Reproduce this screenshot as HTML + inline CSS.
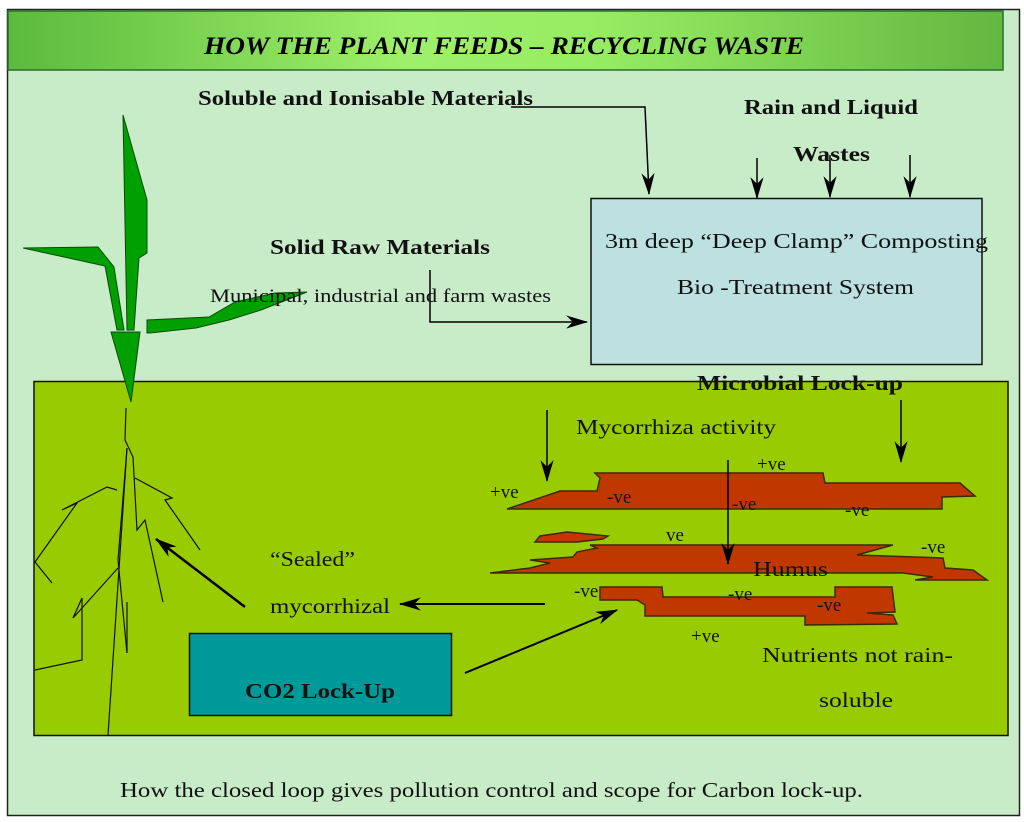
<!DOCTYPE html>
<html><head><meta charset="utf-8"><style>html,body{margin:0;padding:0;background:#fff}svg{display:block}</style></head>
<body>
<svg width="1024" height="822" viewBox="0 0 1024 822" xmlns="http://www.w3.org/2000/svg" font-family="Liberation Serif, serif">
<defs>
<linearGradient id="hg" x1="0" x2="1" y1="0" y2="0">
<stop offset="0" stop-color="#5cba3c"/><stop offset="0.4" stop-color="#9ef06a"/><stop offset="0.6" stop-color="#95ec62"/><stop offset="1" stop-color="#62b840"/>
</linearGradient>
<marker id="ah2" viewBox="0 0 20 12" refX="19" refY="6" markerWidth="22" markerHeight="14" orient="auto" markerUnits="userSpaceOnUse">
<path d="M0,0 L20,6 L0,12 L6,6 z" fill="#000"/></marker>
</defs>
<rect x="0" y="0" width="1024" height="822" fill="#fff"/>
<rect x="7.5" y="9.5" width="1012" height="806" fill="#c8ebc8" stroke="#222" stroke-width="1.5"/>
<rect x="8" y="11" width="995" height="59" fill="url(#hg)" stroke="#2a6e2a" stroke-width="1.5"/>
<text x="204" y="54" font-size="25" font-style="italic" font-weight="bold" textLength="600" lengthAdjust="spacingAndGlyphs">HOW THE PLANT FEEDS – RECYCLING WASTE</text>

<rect x="591" y="198.5" width="391" height="166" fill="#bde0e0" stroke="#111" stroke-width="1.5"/>
<rect x="34" y="381.5" width="974" height="354" fill="#99cc00" stroke="#111" stroke-width="1.5"/>

<g fill="#00a000" stroke="#0a4a0a" stroke-width="1">
<polygon points="123,115 147,200 147,253 139,258 134,330 127,330"/>
<polygon points="23,248 98,247 114,267 124,330 117,330 105,266"/>
<polygon points="147,333 147,320 209,317 235,302 275,293 307,292 261,310 229,320 196,328 150,333"/>
<polygon points="111,332 140,332 131,402"/>
</g>
<g fill="none" stroke="#111" stroke-width="1.2">
<polyline points="126,408 125,440 133,457 137,530 145,520 163,602"/>
<polyline points="127,448 118,560 127,653"/>
<polyline points="127,448 108,735"/>
<polyline points="135,478 172,498 165,500 200,550"/>
<polyline points="117,490 107,487 62,510 77,503 35,562 52,583"/>
<polyline points="118,568 73,618 82,598 82,660 35,670"/>
<polyline points="127,602 127,653"/>
</g>

<g fill="#c03800" stroke="#3a2a00" stroke-width="1.5">
<polygon points="507,509 560,491 597,491 600,478 595,473 823,473 825,483 960,483 975,496 942,497 942,509"/>
<polygon points="490,573 530,568 550,563 530,560 573,557 577,552 597,548 590,545 893,545 857,555 943,558 945,568 973,570 987,580 915,580 933,577 903,573"/>
<polygon points="535,542 540,536 567,532 608,536 603,539 577,542"/>
<polygon points="600,587 662,587 663,597 835,597 835,587 892,587 895,612 867,613 893,615 897,624 805,625 805,616 645,616 645,605 637,600 600,600"/>
</g>

<rect x="189.5" y="633.5" width="262" height="82" fill="#009999" stroke="#111" stroke-width="1.5"/>

<g stroke="#000" stroke-width="1.5" fill="none">
<polyline points="511,107 645,107 649,194" marker-end="url(#ah2)"/>
<line x1="757" y1="158" x2="757" y2="198" marker-end="url(#ah2)"/>
<line x1="830" y1="155" x2="830" y2="197" marker-end="url(#ah2)"/>
<line x1="910" y1="155" x2="910" y2="197" marker-end="url(#ah2)"/>
<polyline points="430,270 430,322 587,322" marker-end="url(#ah2)"/>
<line x1="901" y1="400" x2="901" y2="462" marker-end="url(#ah2)"/>
<line x1="547" y1="410" x2="547" y2="481" marker-end="url(#ah2)"/>
<line x1="728" y1="460" x2="728" y2="564" marker-end="url(#ah2)"/>
<line x1="545" y1="604" x2="400" y2="604" stroke-width="2" marker-end="url(#ah2)"/>
<line x1="465" y1="673" x2="617" y2="610" stroke-width="2" marker-end="url(#ah2)"/>
<line x1="245" y1="607" x2="156" y2="539" stroke-width="2.5" marker-end="url(#ah2)"/>
</g>

<g font-size="21" fill="#111">
<text x="198" y="105" font-weight="bold" textLength="335" lengthAdjust="spacingAndGlyphs">Soluble and Ionisable Materials</text>
<text x="744" y="114" font-weight="bold" textLength="174" lengthAdjust="spacingAndGlyphs">Rain and Liquid</text>
<text x="793" y="161" font-weight="bold" textLength="77" lengthAdjust="spacingAndGlyphs">Wastes</text>
<text x="605" y="248" textLength="383" lengthAdjust="spacingAndGlyphs">3m deep “Deep Clamp” Composting</text>
<text x="677" y="294" textLength="237" lengthAdjust="spacingAndGlyphs">Bio -Treatment System</text>
<text x="270" y="254" font-weight="bold" textLength="220" lengthAdjust="spacingAndGlyphs">Solid Raw Materials</text>
<text x="210" y="302" font-size="19" textLength="341" lengthAdjust="spacingAndGlyphs">Municipal, industrial and farm wastes</text>
<text x="697" y="390" font-weight="bold" textLength="206" lengthAdjust="spacingAndGlyphs">Microbial Lock-up</text>
<text x="576" y="434" textLength="200" lengthAdjust="spacingAndGlyphs">Mycorrhiza activity</text>
<text x="757" y="470" font-size="19">+ve</text>
<text x="490" y="498" font-size="19">+ve</text>
<text x="607" y="503" font-size="19">-ve</text>
<text x="732" y="510" font-size="19">-ve</text>
<text x="845" y="516" font-size="19">-ve</text>
<text x="666" y="541" font-size="19">ve</text>
<text x="921" y="553" font-size="19">-ve</text>
<text x="753" y="576" textLength="75" lengthAdjust="spacingAndGlyphs">Humus</text>
<text x="574" y="597" font-size="19">-ve</text>
<text x="728" y="600" font-size="19">-ve</text>
<text x="817" y="611" font-size="19">-ve</text>
<text x="691" y="642" font-size="19">+ve</text>
<text x="270" y="566" textLength="85" lengthAdjust="spacingAndGlyphs">“Sealed”</text>
<text x="270" y="613" textLength="120" lengthAdjust="spacingAndGlyphs">mycorrhizal</text>
<text x="245" y="698" font-weight="bold" textLength="150" lengthAdjust="spacingAndGlyphs">CO2 Lock-Up</text>
<text x="762" y="662" textLength="191" lengthAdjust="spacingAndGlyphs">Nutrients not rain-</text>
<text x="819" y="707" textLength="74" lengthAdjust="spacingAndGlyphs">soluble</text>
<text x="120" y="797" textLength="743" lengthAdjust="spacingAndGlyphs">How the closed loop gives pollution control and scope for Carbon lock-up.</text>
</g>
</svg>
</body></html>
